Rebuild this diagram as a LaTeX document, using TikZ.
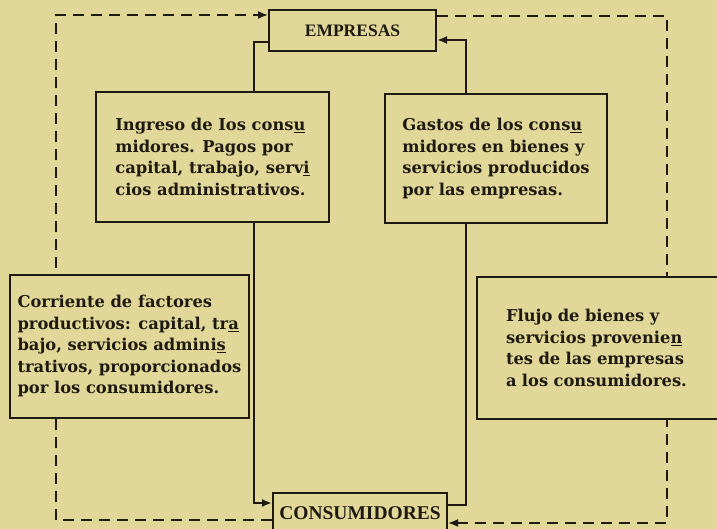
\documentclass[tikz,border=0pt]{standalone}
\usepackage{fontspec}
\setmainfont{DejaVu Serif}
\newfontfamily\rotulo{Liberation Serif}
\usetikzlibrary{arrows.meta}
\usetikzlibrary{backgrounds}
\definecolor{papel}{RGB}{224,215,152}
\definecolor{tinta}{RGB}{30,26,18}

\begin{document}
\begin{tikzpicture}[x=1pt, y=1pt, -{Latex[length=10pt,width=8pt]}, semithick,
    sector/.style={rectangle, draw=tinta, fill=papel, line width=2pt,
    inner sep=0pt, text=tinta},
    nota/.style={rectangle, draw=tinta, fill=papel, line width=2.2pt,
    inner sep=0pt, align=left, text=tinta,
    font=\bfseries\fontsize{16.3}{21.5}\selectfont},
    dinero/.style={draw=tinta, line width=2.2pt},
    real/.style={draw=tinta, line width=1.8pt, dash pattern=on 11pt off 7pt}]

    \useasboundingbox (0,0) rectangle (717,529);
    \clip (0,0) rectangle (717,529);

    \node[sector, minimum width=167pt, minimum height=41pt,
      font=\rotulo\bfseries\fontsize{17.5}{20}\selectfont] (empresas) at (352.5,498.5) {EMPRESAS};
    \node[sector, minimum width=174pt, minimum height=40pt,
      font=\rotulo\bfseries\fontsize{19.5}{22}\selectfont] (consumidores) at (360,16) {CONSUMIDORES};

    \node[nota, minimum width=233pt, minimum height=130pt] (ingreso) at (212.5,372)
      {Ingreso de Ios cons\underline{u}\\ midores. Pagos por\\
       capital, trabajo, serv\underline{i}\\ cios administrativos.};
    \node[nota, minimum width=222pt, minimum height=129pt] (gastos) at (496,370.5)
      {Gastos de los cons\underline{u}\\ midores en bienes y\\
       servicios producidos\\ por las empresas.};
    \node[nota, minimum width=239pt, minimum height=143pt] (corriente) at (129.5,182.5)
      {Corriente de factores\\ productivos: capital, tr\underline{a}\\
       bajo, servicios admini\underline{s}\\ trativos, proporcionados\\
       por los consumidores.};
    \node[nota, text width=205pt, minimum width=263pt, minimum height=142pt] (flujo) at (608.5,181)
      {Flujo de bienes y\\ servicios provenie\underline{n}\\
       tes de las empresas\\ a los consumidores.};

    \begin{scope}[on background layer]
      \fill[papel] (0,0) rectangle (717,529);
      % pagos y gastos
      \draw[dinero] ([yshift=-11.5pt]empresas.west) -| ([xshift=41.5pt]ingreso.center)
        |- ([yshift=10pt]consumidores.west);
      \draw[dinero] ([yshift=8pt]consumidores.east) -| ([xshift=-30pt]gastos.center)
        |- ([yshift=-9.5pt]empresas.east);
      % factores y bienes
      \draw[real] ([yshift=-7pt]consumidores.west) -| ([xshift=-73.5pt]corriente.center)
        |- ([yshift=15.5pt]empresas.west);
      \draw[real] ([yshift=14.5pt]empresas.east) -| ([xshift=58.5pt]flujo.center)
        |- ([yshift=-10pt]consumidores.east);
    \end{scope}
  \end{tikzpicture}
\end{document}
